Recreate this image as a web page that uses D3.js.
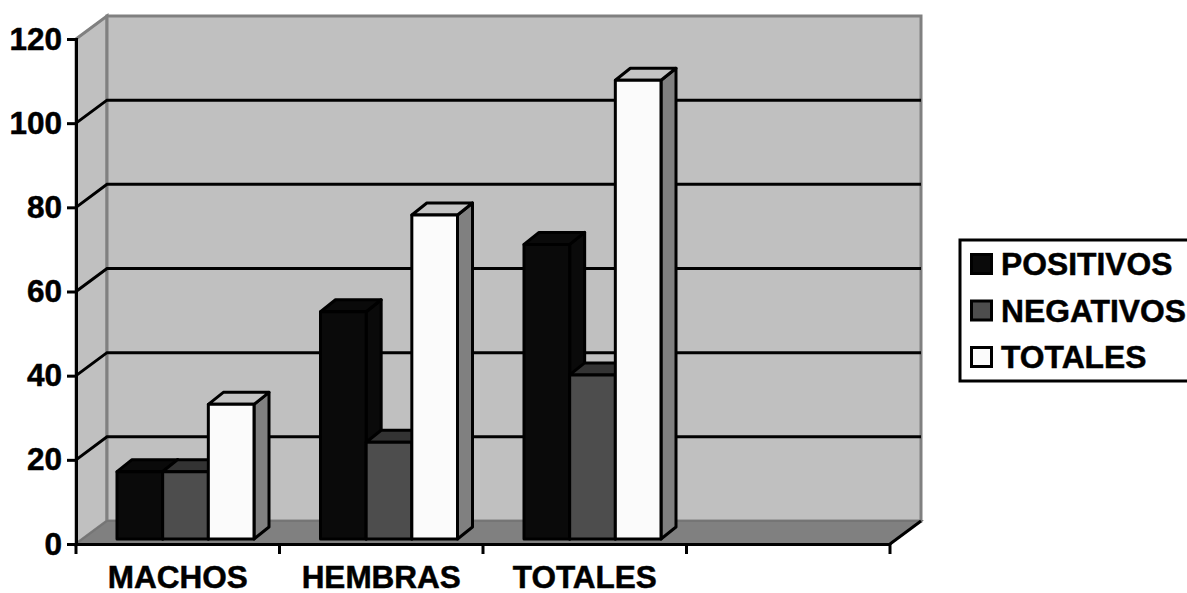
<!DOCTYPE html>
<html>
<head>
<meta charset="utf-8">
<script src="https://cdn.jsdelivr.net/npm/d3@7"></script>
<style>
  html, body { margin: 0; padding: 0; background: #fff; overflow: hidden; }
  svg { display: block; }
  text { font-family: "Liberation Sans", Arial, sans-serif; font-weight: bold; fill: #000; }
</style>
</head>
<body>
<script>
// values
const categories = ["MACHOS", "HEMBRAS", "TOTALES", ""];
const seriesNames = ["POSITIVOS", "NEGATIVOS", "TOTALES"];
const positivos = [16, 54, 70, null];
const negativos = [16, 23, 39, null];
const totales = [32, 77, 109, null];
const yTicks = [0, 20, 40, 60, 80, 100, 120];

const seriesValues = [positivos, negativos, totales];
const fronts = ["#0a0a0a", "#4d4d4d", "#fbfbfb"];
const tops = ["#0a0a0a", "#333333", "#c4c4c4"];
const sides = ["#0a0a0a", "#333333", "#808080"];

const width = 1187, height = 593;
const plotLeft = 76, plotRight = 890, plotTop = 39, plotBottom = 544;
const depthX = 31, depthY = 23;     // wall offset
const barDepthX = 15, barDepthY = 12; // bar offset
const barBase = 5; // bars stand a bit behind the front edge of the floor

const svg = d3.select("body").append("svg").attr("width", width).attr("height", height);

const x = d3.scaleBand().domain(d3.range(categories.length)).range([plotLeft, plotRight]);
const y = d3.scaleLinear().domain([0, 120]).range([plotBottom, plotTop]);
const xBar = d3.scaleBand().domain(d3.range(seriesNames.length)).range([41, 178]);

// walls and floor
const poly = pts => "M" + pts.map(p => p.join(",")).join("L") + "Z";
svg.append("path")
  .attr("d", poly([[plotLeft, plotTop], [plotLeft + depthX, plotTop - depthY], [plotLeft + depthX, plotBottom - depthY], [plotLeft, plotBottom]]))
  .attr("fill", "#c0c0c0").attr("stroke", "#808080").attr("stroke-width", 3);
svg.append("path")
  .attr("d", poly([[plotLeft + depthX, plotTop - depthY], [plotRight + depthX, plotTop - depthY], [plotRight + depthX, plotBottom - depthY], [plotLeft + depthX, plotBottom - depthY]]))
  .attr("fill", "#c0c0c0").attr("stroke", "#808080").attr("stroke-width", 3);
svg.append("path")
  .attr("d", poly([[plotLeft, plotBottom], [plotLeft + depthX, plotBottom - depthY], [plotRight + depthX, plotBottom - depthY], [plotRight, plotBottom]]))
  .attr("fill", "#808080").attr("stroke", "#757575").attr("stroke-width", 2);

// gridlines, skip 0 and the top edge
const grid = svg.append("g").selectAll("path").data(yTicks.filter(d => d > 0 && d < 120)).enter();
grid.append("path")
  .attr("d", d => `M${plotLeft},${y(d)}L${plotLeft + depthX},${y(d) - depthY}L${plotRight + depthX},${y(d) - depthY}`)
  .attr("fill", "none").attr("stroke", "#000").attr("stroke-width", 3);

// right floor edge
svg.append("line")
  .attr("x1", plotRight).attr("y1", plotBottom).attr("x2", plotRight + depthX).attr("y2", plotBottom - depthY)
  .attr("stroke", "#000").attr("stroke-width", 3);

// bars
const barY = v => y(v) - barBase;
const bars = [];
categories.forEach((c, i) => {
  seriesValues.forEach((vals, s) => {
    if (vals[i] != null) bars.push({ i, s, v: vals[i] });
  });
});

const barG = svg.append("g").selectAll("g").data(bars).enter().append("g")
  .attr("stroke", "#000").attr("stroke-width", 3).attr("stroke-linejoin", "round");

barG.append("path") // side
  .attr("fill", d => sides[d.s])
  .attr("d", d => {
    const x1 = x(d.i) + xBar(d.s) + xBar.bandwidth();
    return poly([[x1, barY(d.v)], [x1 + barDepthX, barY(d.v) - barDepthY],
      [x1 + barDepthX, barY(0) - barDepthY], [x1, barY(0)]]);
  });
barG.append("path") // top face
  .attr("fill", d => tops[d.s])
  .attr("d", d => {
    const x0 = x(d.i) + xBar(d.s), x1 = x0 + xBar.bandwidth();
    return poly([[x0, barY(d.v)], [x0 + barDepthX, barY(d.v) - barDepthY],
      [x1 + barDepthX, barY(d.v) - barDepthY], [x1, barY(d.v)]]);
  });
barG.append("rect") // front
  .attr("fill", d => fronts[d.s])
  .attr("x", d => x(d.i) + xBar(d.s))
  .attr("y", d => barY(d.v))
  .attr("width", xBar.bandwidth())
  .attr("height", d => barY(0) - barY(d.v));

// axes
const yAxis = svg.append("g")
  .attr("transform", `translate(${plotLeft},0)`)
  .call(d3.axisLeft(y).tickValues(yTicks).tickSize(9).tickPadding(5));
const xAxis = svg.append("g")
  .attr("transform", `translate(0,${plotBottom})`)
  .call(d3.axisBottom(x).tickFormat(i => categories[i]).tickSize(0).tickPadding(22));

// category ticks sit on the band edges
xAxis.selectAll(".edge").data(d3.range(categories.length + 1)).enter().append("line")
  .attr("class", "edge")
  .attr("x1", i => plotLeft + i * x.bandwidth()).attr("x2", i => plotLeft + i * x.bandwidth())
  .attr("y1", 0).attr("y2", 10)
  .attr("stroke", "#000").attr("stroke-width", 3);

svg.selectAll(".domain").attr("stroke", "#000").attr("stroke-width", 3);
yAxis.selectAll(".tick line").attr("stroke", "#000").attr("stroke-width", 3);
svg.selectAll(".tick text")
  .style("font-size", "31.5px")
  .style("font-family", '"Liberation Sans", Arial, sans-serif')
  .style("font-weight", "bold")
  .attr("fill", "#000").attr("stroke", "#000").attr("stroke-width", 0.5);

// legend
const legend = svg.append("g");
legend.append("rect")
  .attr("x", 960).attr("y", 240).attr("width", 240).attr("height", 141)
  .attr("fill", "#fff").attr("stroke", "#000").attr("stroke-width", 3);
const legendY = d3.scalePoint().domain(seriesNames).range([275, 368]);
const item = legend.selectAll("g.item").data(seriesNames).enter().append("g").attr("class", "item");
item.append("rect")
  .attr("x", 971.5).attr("y", d => legendY(d) - 20.5)
  .attr("width", 20).attr("height", 19)
  .attr("fill", (d, i) => fronts[i]).attr("stroke", "#000").attr("stroke-width", 3);
item.append("text")
  .attr("x", 1001).attr("y", d => legendY(d))
  .style("font-size", "31.8px")
  .attr("stroke", "#000").attr("stroke-width", 0.5)
  .text(d => d);
</script>
</body>
</html>
